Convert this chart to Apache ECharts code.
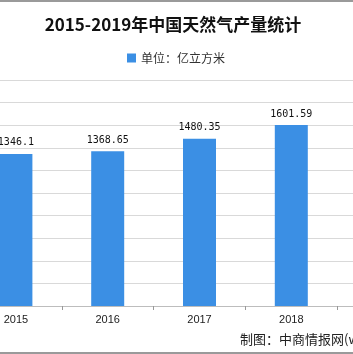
<!DOCTYPE html>
<html><head><meta charset="utf-8">
<script src="https://cdn.jsdelivr.net/npm/echarts@6/dist/echarts.min.js"></script>
<style>html,body{margin:0;padding:0;background:#fff;overflow:hidden}
#w{position:relative;width:353px;height:354px;overflow:hidden}
#c{position:absolute;left:-30px;top:0;width:459px;height:354px}</style>
</head><body><div id="w"><div id="c"></div></div>
<script>
const years = ['2015','2016','2017','2018','2019'];
const output = [1346.1, 1368.65, 1480.35, 1601.59, 1736.2];
const labels = ['1346.1','1368.65','1480.35','1601.59','1736.2'];
const OX = 30;
const chart = echarts.init(document.getElementById('c'));
chart.setOption({
  backgroundColor:'#fff',
  animation:false,
  title:{text:'2015-2019年中国天然气产量统计',left:168+OX,textAlign:'center',top:11,
    textStyle:{fontFamily:'Noto Sans CJK SC',fontSize:17,fontWeight:'bold',color:'#111'}},
  legend:{data:['单位：亿立方米'],top:47,left:122+OX,itemWidth:9,itemHeight:9,itemGap:4,
    icon:'rect',textStyle:{fontFamily:'Noto Sans CJK SC',fontSize:12,color:'#333'}},
  grid:{left:0,right:0,top:80,bottom:48,containLabel:false},
  xAxis:{type:'category',data:years,
    axisLine:{lineStyle:{color:'#bdbdbd'}},
    axisTick:{show:true,length:4,lineStyle:{color:'#999'}},
    axisLabel:{fontFamily:'Liberation Sans',fontSize:11,color:'#222',margin:8}},
  yAxis:{type:'value',min:0,max:2000,interval:200,
    axisLabel:{show:false},axisLine:{show:false},axisTick:{show:false},
    splitLine:{lineStyle:{color:'#d9d9d9'}}},
  series:[{name:'单位：亿立方米',type:'bar',data:output,barWidth:33,
    itemStyle:{color:'#3b8fe4'},
    label:{show:true,position:'top',distance:6,fontFamily:'DejaVu Sans Mono',fontSize:10,color:'#111',
      formatter:p=>labels[p.dataIndex]}}],
  graphic:[
    {type:'text',left:240+OX,top:333,style:{text:'制图：中商情报网(www.askci.com)',font:'13px "Noto Sans CJK SC"',fill:'#222'}},
    {type:'rect',shape:{x:0,y:0,width:459,height:2},style:{fill:'#9a9a9a'}},
    {type:'rect',shape:{x:0,y:352,width:459,height:2},style:{fill:'#9a9a9a'}}
  ]
});
</script></body></html>
